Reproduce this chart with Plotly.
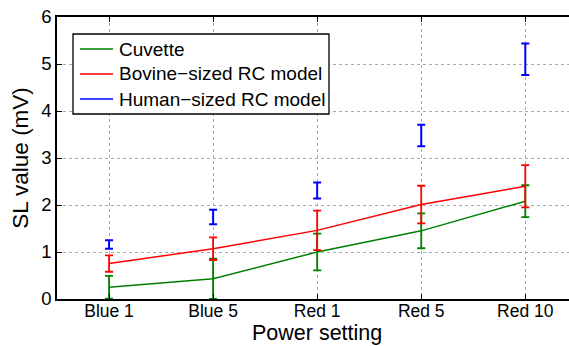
import plotly.graph_objects as go

settings = ["Blue 1", "Blue 5", "Red 1", "Red 5", "Red 10"]
cuvette_mean = [0.25, 0.43, 1.00, 1.45, 2.08]
cuvette_err = [0.24, 0.43, 0.39, 0.37, 0.34]
bovine_mean = [0.755, 1.07, 1.46, 2.01, 2.40]
bovine_err = [0.175, 0.24, 0.42, 0.40, 0.45]
human_mean = [1.16, 1.745, 2.31, 3.48, 5.10]
human_err = [0.09, 0.155, 0.17, 0.23, 0.335]
series_names = ["Cuvette", "Bovine\u2212sized RC model", "Human\u2212sized RC model"]
x_title = "Power setting"
y_title = "SL value (mV)"

GREEN = "rgb(0,128,0)"
RED = "rgb(255,0,0)"
BLUE = "rgb(0,0,255)"
colors = [GREEN, RED, BLUE]
FONT = "Liberation Sans, Arial, sans-serif"

fig = go.Figure()
fig.add_trace(go.Scatter(
    x=settings, y=cuvette_mean, mode="lines", name=series_names[0],
    line=dict(color=GREEN, width=1.5), showlegend=False,
    error_y=dict(type="data", array=cuvette_err, color=GREEN, thickness=1.8, width=4),
))
fig.add_trace(go.Scatter(
    x=settings, y=bovine_mean, mode="lines", name=series_names[1],
    line=dict(color=RED, width=1.5), showlegend=False,
    error_y=dict(type="data", array=bovine_err, color=RED, thickness=1.8, width=4),
))
fig.add_trace(go.Scatter(
    x=settings, y=human_mean, mode="markers", name=series_names[2],
    marker=dict(color=BLUE, size=1, opacity=0), showlegend=False,
    error_y=dict(type="data", array=human_err, color=BLUE, thickness=2, width=4),
))

# Custom legend box (paper coordinates)
fig.add_shape(type="rect", xref="paper", yref="paper",
              x0=0.03125, x1=0.53125, y0=0.656, y1=0.9397,
              line=dict(color="black", width=1.3), fillcolor="white", layer="above")
legend_rows = [0.8865, 0.7979, 0.7092]
for name, col, yy in zip(series_names, colors, legend_rows):
    fig.add_shape(type="line", xref="paper", yref="paper",
                  x0=0.0449, x1=0.1094, y0=yy, y1=yy,
                  line=dict(color=col, width=1.5), layer="above")
    fig.add_annotation(xref="paper", yref="paper", x=0.117, y=yy,
                       xanchor="left", yanchor="middle", text=name,
                       showarrow=False, font=dict(family=FONT, size=19, color="black"))

# X-axis title placed at the bottom of the figure
fig.add_annotation(xref="paper", yref="paper", x=0.508, y=-0.1667,
                   xanchor="center", yanchor="bottom", text=x_title, borderpad=0,
                   showarrow=False, font=dict(family=FONT, size=21.5, color="black"))

fig.update_layout(
    width=569, height=346,
    margin=dict(l=57, r=0, t=17, b=47),
    paper_bgcolor="white", plot_bgcolor="white",
    font=dict(family=FONT, size=17.5, color="black"),
    showlegend=False,
    xaxis=dict(
        type="category", range=[-0.5, 4.42],
        showline=True, linecolor="black", linewidth=1.5, mirror="ticks",
        ticks="inside", ticklen=5, tickcolor="black", tickwidth=1,
        showgrid=True, gridcolor="#aaaaaa", griddash="dot", gridwidth=1,
        tickfont=dict(size=17.5), zeroline=False, ticklabelstandoff=-5,
    ),
    yaxis=dict(
        range=[0, 6], dtick=1,
        showline=True, linecolor="black", linewidth=1.5,
        ticks="inside", ticklen=5, tickcolor="black", tickwidth=1,
        showgrid=True, gridcolor="#aaaaaa", griddash="dot", gridwidth=1,
        tickfont=dict(size=18.5), zeroline=False,
        title=dict(text=y_title, font=dict(size=22.5), standoff=6),
    ),
)

fig.write_html("out.html")
